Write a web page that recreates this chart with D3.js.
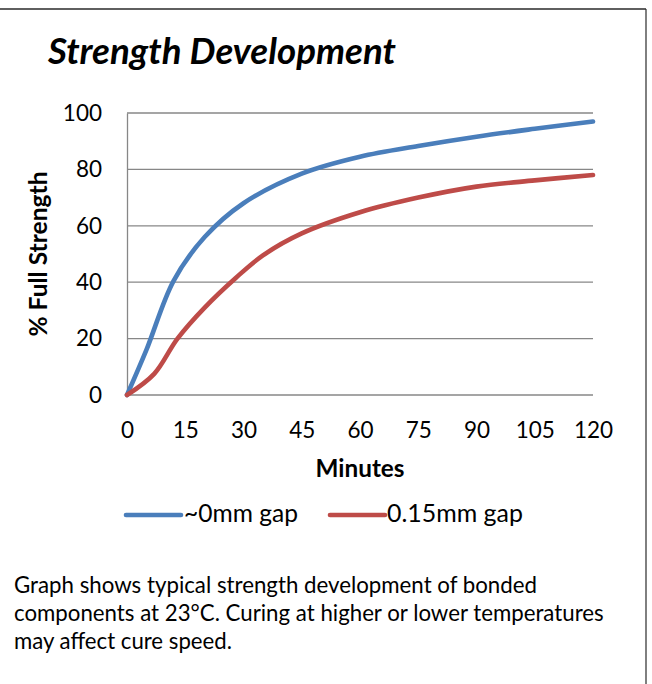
<!DOCTYPE html>
<html>
<head>
<meta charset="utf-8">
<script src="https://cdn.jsdelivr.net/npm/d3@7"></script>
<style>
  html, body { margin: 0; padding: 0; background: #fff; }
  svg { display: block; font-family: Lato, "Open Sans", sans-serif; }
</style>
</head>
<body>
<svg id="chart" width="652" height="684"></svg>
<script>
/* ── Data ─────────────────────────────────────────────────────────────── */
const X_TICKS = [0, 15, 30, 45, 60, 75, 90, 105, 120];
const Y_TICKS = [0, 20, 40, 60, 80, 100];

const gap0X = [0, 5, 12, 20, 30, 45, 60, 75, 90, 105, 120];
const gap0Y = [0, 16, 40.5, 56, 68, 78.5, 84.5, 88.3, 91.6, 94.4, 97];

const gap15X = [0, 7, 13, 20, 28, 35, 45, 60, 75, 90, 105, 120];
const gap15Y = [0, 7.5, 20, 31, 41.5, 49.5, 57.3, 64.8, 70, 73.9, 76.1, 78];

const SERIES = [
  { name: '~0mm gap',   xs: gap0X,  ys: gap0Y,  color: '#4A7EBB' },
  { name: '0.15mm gap', xs: gap15X, ys: gap15Y, color: '#BE4B48' },
];

const CAPTION = [
  'Graph shows typical strength development of bonded',
  'components at 23°C. Curing at higher or lower temperatures',
  'may affect cure speed.',
];

/* ── Helpers ──────────────────────────────────────────────────────────── */
// scale font-size so the text spans the wanted width
function fitWidth(sel, w) {
  const n = sel.node();
  const fs = parseFloat(sel.attr('font-size'));
  const len = n.getComputedTextLength();
  if (len > 0) sel.attr('font-size', (fs * w / len).toFixed(2));
  return sel;
}

/* ── Layout ───────────────────────────────────────────────────────────── */
const svg = d3.select('#chart');
const M = { l: 127, r: 593, t: 113, b: 395 };

const x = d3.scaleLinear().domain([0, 120]).range([M.l, M.r]);
const y = d3.scaleLinear().domain([0, 100]).range([M.b, M.t]);

// frame
svg.append('line').attr('x1', 0).attr('x2', 646).attr('y1', 9).attr('y2', 9)
   .attr('stroke', '#2a2a2a').attr('stroke-width', 1.6);
svg.append('line').attr('x1', 646).attr('x2', 646).attr('y1', 9).attr('y2', 684)
   .attr('stroke', '#2a2a2a').attr('stroke-width', 1.2);

// title
fitWidth(svg.append('text').attr('x', 48).attr('y', 64)
   .attr('font-size', 34).attr('font-weight', 'bold').attr('font-style', 'italic')
   .attr('fill', '#000').text('Strength Development'), 348);

// gridlines
svg.append('g').selectAll('line').data(Y_TICKS).join('line')
   .attr('x1', M.l).attr('x2', M.r)
   .attr('y1', d => y(d)).attr('y2', d => y(d))
   .attr('stroke', '#878787').attr('stroke-width', 1.3);

// axes (labels only, Excel style)
const yAxis = svg.append('g').attr('transform', `translate(${M.l},0)`)
   .call(d3.axisLeft(y).tickValues(Y_TICKS).tickSize(0).tickPadding(25));
yAxis.select('.domain').attr('stroke', '#878787').attr('stroke-width', 1.3);
yAxis.selectAll('text').attr('font-size', 22.5).attr('fill', '#000')
   .attr('font-family', 'Lato, sans-serif');

const xAxis = svg.append('g').attr('transform', `translate(0,${M.b})`)
   .call(d3.axisBottom(x).tickValues(X_TICKS).tickSize(0).tickPadding(27));
xAxis.select('.domain').remove();
xAxis.selectAll('text').attr('font-size', 22.5).attr('fill', '#000')
   .attr('font-family', 'Lato, sans-serif');

// axis titles
fitWidth(svg.append('text').attr('x', 360).attr('y', 477).attr('text-anchor', 'middle')
   .attr('font-size', 21).attr('font-weight', 'bold').text('Minutes'), 89);
fitWidth(svg.append('text').attr('transform', 'translate(47,254) rotate(-90)')
   .attr('text-anchor', 'middle').attr('font-size', 21).attr('font-weight', 'bold')
   .text('% Full Strength'), 165);

// series
const line = d3.line().curve(d3.curveCatmullRom.alpha(0.5))
   .x(d => x(d[0])).y(d => y(d[1]));
svg.append('g').selectAll('path').data(SERIES).join('path')
   .attr('d', s => line(s.xs.map((v, i) => [v, s.ys[i]])))
   .attr('fill', 'none').attr('stroke', s => s.color)
   .attr('stroke-width', 4.6).attr('stroke-linejoin', 'round').attr('stroke-linecap', 'round');

// legend
const LEG = [{ x1: 126, tx: 184, w: 114 }, { x1: 330, tx: 387, w: 136 }];
SERIES.forEach((s, i) => {
  const L = LEG[i];
  svg.append('line').attr('x1', L.x1).attr('x2', L.x1 + 55).attr('y1', 515).attr('y2', 515)
     .attr('stroke', s.color).attr('stroke-width', 4.6).attr('stroke-linecap', 'round');
  fitWidth(svg.append('text').attr('x', L.tx).attr('y', 522).attr('font-size', 21)
     .attr('fill', '#000').text(s.name), L.w);
});

// caption
const CAP_W = [523, 590, 218];
CAPTION.forEach((t, i) => {
  fitWidth(svg.append('text').attr('x', 14).attr('y', 593 + i * 28).attr('font-size', 20)
     .attr('fill', '#000').text(t), CAP_W[i]);
});
</script>
</body>
</html>
